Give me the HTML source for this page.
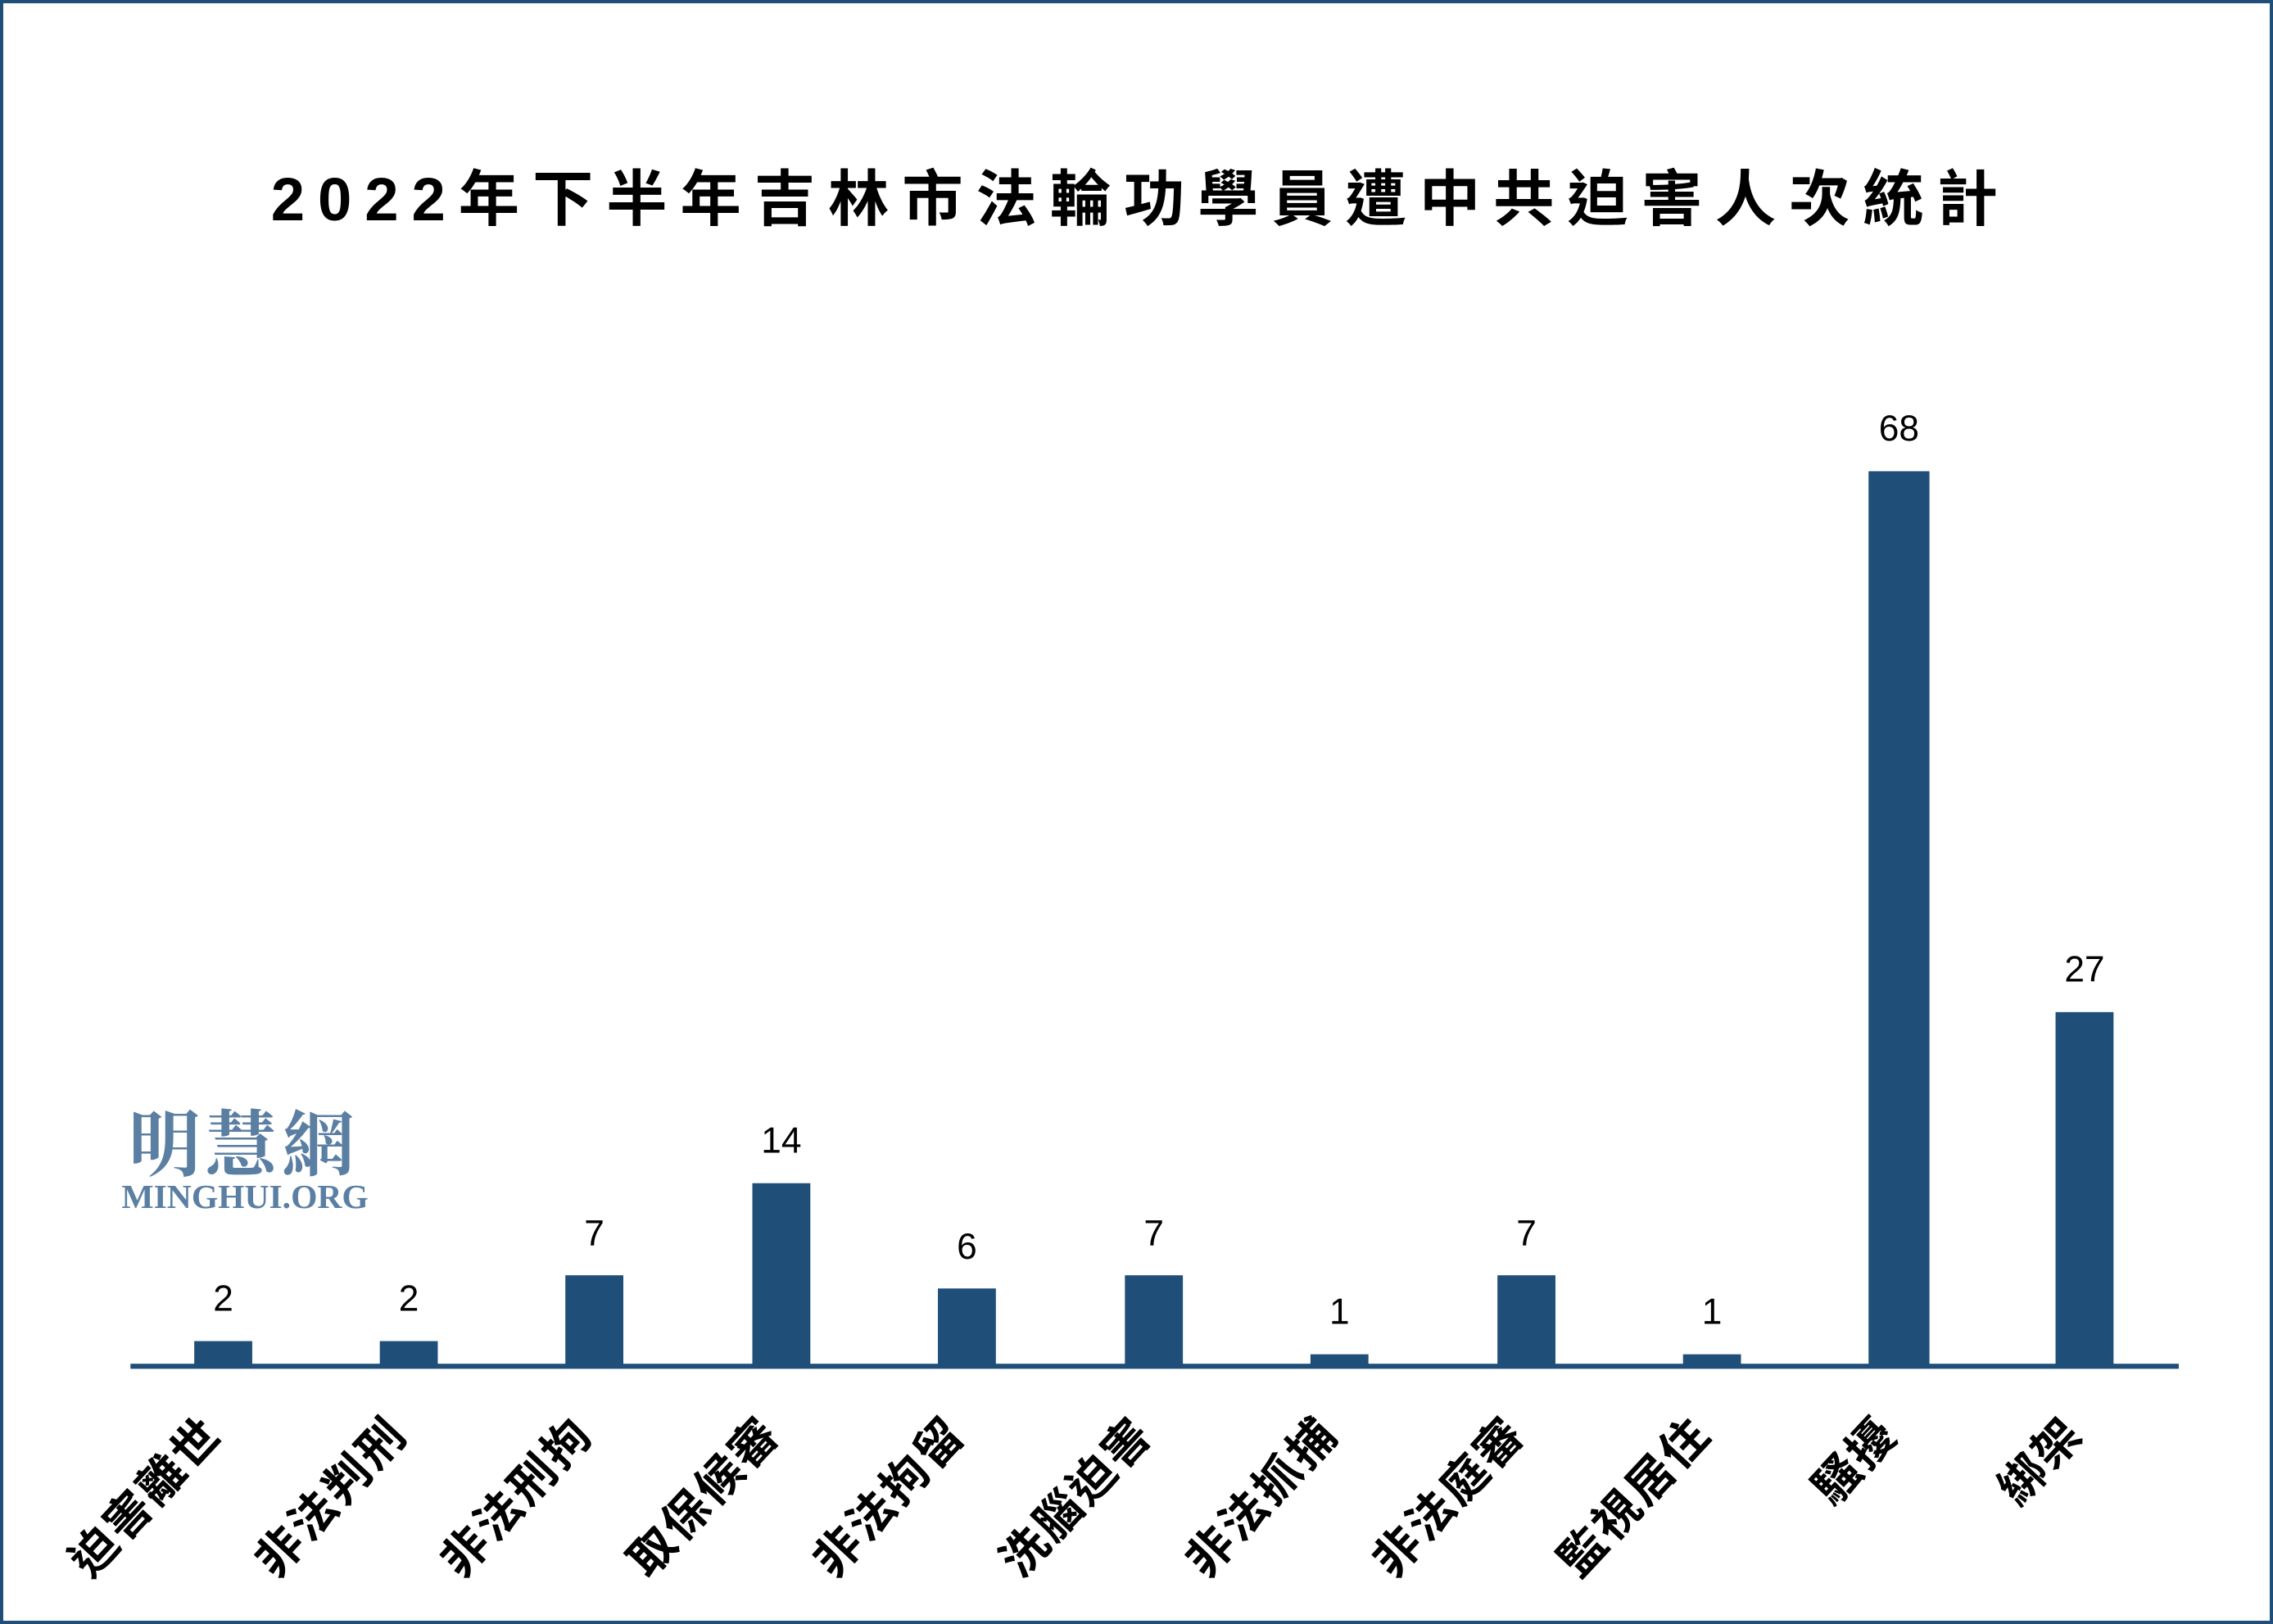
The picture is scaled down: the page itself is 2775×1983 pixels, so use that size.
<!DOCTYPE html>
<html><head><meta charset="utf-8"><style>
html,body{margin:0;padding:0;background:#fff;}
svg{display:block;}
</style></head><body>
<svg width="2775" height="1983" viewBox="0 0 1568 1120" preserveAspectRatio="none" xmlns="http://www.w3.org/2000/svg">
<rect x="0" y="0" width="1568" height="1120" fill="#fff"/>
<rect x="1" y="1" width="1566" height="1118" fill="none" stroke="#1f4e79" stroke-width="2.5"/>
<text x="787" y="152" text-anchor="middle" font-family="'Liberation Sans','Noto Sans CJK TC',sans-serif" font-weight="bold" font-size="42" letter-spacing="9" fill="#000">2022年下半年吉林市法輪功學員遭中共迫害人次統計</text>
<g font-family="'Liberation Serif','Noto Serif CJK SC',serif" fill="#5b7fa3">
<text x="168" y="807" text-anchor="middle" font-size="50" font-weight="bold" font-family="'Noto Serif CJK SC',serif" letter-spacing="3">明慧網</text>
<text x="169" y="833" text-anchor="middle" font-size="23.5" font-weight="bold">MINGHUI.ORG</text>
</g>
<g fill="#1f4e79">
<rect x="134" y="924.9" width="40" height="18"/>
<rect x="262" y="924.9" width="40" height="18"/>
<rect x="390" y="879.5" width="40" height="63"/>
<rect x="519" y="816" width="40" height="127"/>
<rect x="647" y="888.6" width="40" height="54"/>
<rect x="776" y="879.5" width="40" height="63"/>
<rect x="904" y="934" width="40" height="9"/>
<rect x="1033" y="879.5" width="40" height="63"/>
<rect x="1161" y="934" width="40" height="9"/>
<rect x="1289" y="325" width="42" height="618"/>
<rect x="1418" y="698" width="40" height="245"/>
<rect x="90" y="940.5" width="1413" height="3.5"/>
</g>
<g font-family="'Liberation Sans','DejaVu Sans',sans-serif" font-size="25" text-anchor="middle" fill="#000">
<text x="154" y="904">2</text>
<text x="282" y="904">2</text>
<text x="410" y="859">7</text>
<text x="539" y="795">14</text>
<text x="667" y="868">6</text>
<text x="796" y="859">7</text>
<text x="924" y="913">1</text>
<text x="1053" y="859">7</text>
<text x="1181" y="913">1</text>
<text x="1310" y="304">68</text>
<text x="1438" y="677">27</text>
</g>
<g font-family="'Liberation Sans','Noto Sans CJK TC',sans-serif" font-weight="bold" font-size="32" letter-spacing="2" text-anchor="end" fill="#000">
<text transform="translate(155,990) rotate(-47)">迫害離世</text>
<text transform="translate(283,990) rotate(-47)">非法判刑</text>
<text transform="translate(411,990) rotate(-47)">非法刑拘</text>
<text transform="translate(540,990) rotate(-47)">取保候審</text>
<text transform="translate(668,990) rotate(-47)">非法拘留</text>
<text transform="translate(797,990) rotate(-47)">洗腦迫害</text>
<text transform="translate(925,990) rotate(-47)">非法抓捕</text>
<text transform="translate(1054,990) rotate(-47)">非法庭審</text>
<text transform="translate(1182,990) rotate(-47)">監視居住</text>
<text transform="translate(1311,990) rotate(-47)">騷擾</text>
<text transform="translate(1439,990) rotate(-47)">綁架</text>
</g>
</svg>
</body></html>
